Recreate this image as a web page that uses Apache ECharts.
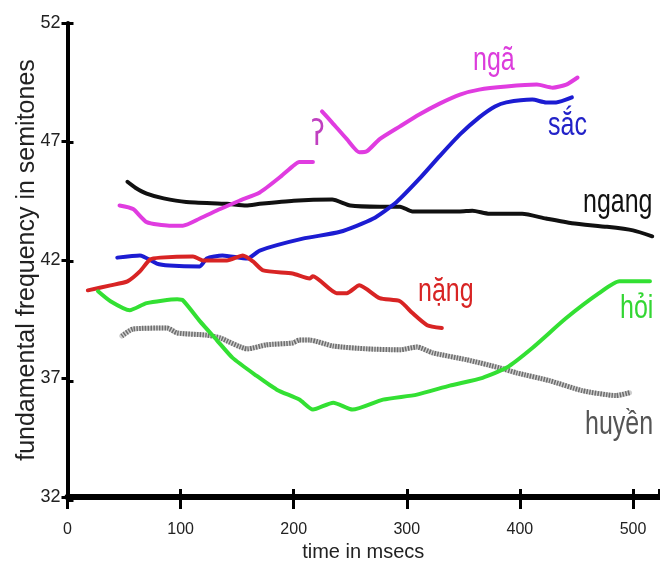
<!DOCTYPE html>
<html><head><meta charset="utf-8">
<script src="https://cdn.jsdelivr.net/npm/echarts@6/dist/echarts.min.js"></script>
<style>html,body{margin:0;padding:0;background:#fff}#c{width:660px;height:567px}</style>
</head><body><div id="c"></div>
<script>
const xTicks = [0, 100, 200, 300, 400, 500];
const yTicks = [32, 37, 42, 47, 52];

const ngang = [[53,45.3],[60,45.05],[70,44.8],[85,44.6],[105,44.45],[141,44.37],[158,44.3],[170,44.37],[200,44.5],[234,44.55],[250,44.3],[276,44.25],[294,44.25],[305,44.05],[347,44.05],[358,44.08],[373,43.95],[402,43.95],[423,43.75],[446,43.55],[477,43.4],[500,43.25],[517,43.0]];
const ngaPart1 = [[46,44.3],[58,44.15],[70,43.6],[90,43.45],[102,43.45],[117,43.75],[135,44.15],[152,44.5],[170,44.85],[188,45.5],[199,45.95],[205,46.13],[217,46.13]];
const ngaPart2 = [[225,48.27],[234,47.8],[247,47.1],[258,46.55],[265,46.6],[276,47.1],[294,47.64],[311,48.14],[329,48.6],[347,48.98],[364,49.19],[388,49.32],[415,49.4],[429,49.27],[441,49.4],[451,49.7]];
const sac = [[44,42.1],[64,42.19],[79,41.85],[90,41.77],[117,41.73],[123,42.06],[137,42.19],[159,42.06],[170,42.4],[208,42.9],[241,43.19],[270,43.74],[291,44.45],[311,45.42],[329,46.38],[347,47.3],[364,48.02],[378,48.48],[388,48.65],[411,48.77],[423,48.65],[432,48.65],[446,48.86]];
const nang = [[18,40.72],[38,40.93],[53,41.1],[64,41.52],[73,42.02],[82,42.1],[111,42.15],[120,41.98],[141,41.98],[155,42.19],[164,41.94],[173,41.56],[199,41.43],[214,41.22],[217,41.31],[238,40.6],[247,40.6],[258,40.93],[276,40.39],[294,40.26],[305,39.76],[318,39.25],[331,39.13]];
const hoi = [[27,40.68],[38,40.26],[55,39.88],[70,40.18],[97,40.34],[102,40.3],[117,39.42],[132,38.62],[146,37.87],[167,37.12],[185,36.53],[205,36.11],[217,35.69],[235,35.98],[252,35.69],[279,36.11],[309,36.32],[338,36.7],[367,37.03],[388,37.45],[411,38.29],[441,39.55],[470,40.6],[488,41.1],[515,41.1]];
const huyen = [[48,38.79],[58,39.09],[88,39.13],[97,38.92],[123,38.83],[135,38.71],[159,38.25],[176,38.42],[199,38.5],[205,38.62],[214,38.62],[235,38.37],[265,38.25],[294,38.21],[309,38.33],[323,38.08],[353,37.79],[382,37.45],[397,37.24],[426,36.91],[455,36.49],[485,36.28],[497,36.4]];

const FONT = '"Liberation Sans", Arial, sans-serif';
const xInterval = xTicks[1] - xTicks[0];
const yInterval = yTicks[1] - yTicks[0];
const X_MAX = 523;

function line(data, color, width, extra) {
  return Object.assign({
    type: 'line', data: data, symbol: 'none', smooth: 0.2,
    xAxisIndex: 0, yAxisIndex: 0,
    lineStyle: { color: color, width: width, cap: 'round', join: 'round' },
    silent: true
  }, extra || {});
}

function label(text, x, y, color, font) {
  return {
    type: 'text', x: x, y: y, scaleY: 1.35,
    style: { text: text, fill: color, fontSize: 25, fontFamily: font || FONT, verticalAlign: 'middle', align: 'left' }
  };
}

const gridBox = { left: 67.5, right: 1, top: 23, bottom: 67, containLabel: false };

const chart = echarts.init(document.getElementById('c'), null, { renderer: 'canvas' });
chart.setOption({
  animation: false,
  backgroundColor: '#fff',
  grid: [Object.assign({}, gridBox), Object.assign({}, gridBox)],
  xAxis: [{
    type: 'value', gridIndex: 0, min: xTicks[0], max: X_MAX, interval: xInterval,
    position: 'bottom',
    axisLine: { show: true, lineStyle: { color: '#000', width: 6 } },
    axisTick: { show: true, length: 12, lineStyle: { color: '#000', width: 3 } },
    axisLabel: { fontSize: 16, color: '#222', margin: 25, fontFamily: FONT },
    splitLine: { show: false },
    name: 'time in msecs', nameLocation: 'middle', nameGap: 45, nameMoveOverlap: false,
    nameTextStyle: { fontSize: 20, color: '#222', fontFamily: FONT }
  }, {
    type: 'value', gridIndex: 1, min: xTicks[0], max: X_MAX, interval: xInterval,
    position: 'bottom',
    axisLine: { show: false },
    axisTick: { show: true, inside: true, length: 11, lineStyle: { color: '#000', width: 3 } },
    axisLabel: { show: false }, splitLine: { show: false }
  }],
  yAxis: [{
    type: 'value', gridIndex: 0, min: yTicks[0], max: yTicks[yTicks.length - 1], interval: yInterval,
    position: 'left',
    axisLine: { show: true, lineStyle: { color: '#000', width: 4 } },
    axisTick: { show: true, length: 6, lineStyle: { color: '#000', width: 3 } },
    axisLabel: { fontSize: 18, color: '#222', margin: 7, fontFamily: FONT },
    splitLine: { show: false },
    name: 'fundamental frequency in semitones', nameLocation: 'middle', nameGap: 28, nameMoveOverlap: false,
    nameTextStyle: { fontSize: 25, color: '#222', fontFamily: FONT }
  }, {
    type: 'value', gridIndex: 1, min: yTicks[0], max: yTicks[yTicks.length - 1], interval: yInterval,
    position: 'left',
    axisLine: { show: false },
    axisTick: { show: true, inside: true, length: 6, lineStyle: { color: '#000', width: 3 } },
    axisLabel: { show: false }, splitLine: { show: false }
  }],
  series: [
    { type: 'line', data: [], xAxisIndex: 1, yAxisIndex: 1, silent: true, symbol: 'none' },
    line(huyen, '#cfcfcf', 5, { name: 'huyền base' }),
    line(huyen, '#6e6e6e', 5, { name: 'huyền', lineStyle: { color: '#6e6e6e', width: 5, type: [1.5, 1.3] } }),
    line(ngang, '#111111', 4, { name: 'ngang' }),
    line(sac, '#1c1cd2', 4, { name: 'sắc' }),
    line(nang, '#d82424', 4, { name: 'nặng' }),
    line(ngaPart1, '#e03ce0', 4, { name: 'ngã' }),
    line(ngaPart2, '#e03ce0', 4, { name: 'ngã (2)' }),
    line(hoi, '#33e033', 4, { name: 'hỏi' })
  ],
  graphic: [
    label('ngã', 473, 61, '#dc3cdc'),
    label('sắc', 548, 126, '#2222c8'),
    label('ngang', 583, 203, '#111111'),
    label('nặng', 418, 292, '#d82424'),
    label('hỏi', 620, 309, '#33d633'),
    label('huyền', 585, 425, '#555555'),
    {
      type: 'text', x: 311, y: 136, scaleY: 1.3,
      style: { text: 'ʔ', fill: '#c040c0', fontSize: 27, fontFamily: '"DejaVu Sans", sans-serif', verticalAlign: 'middle', align: 'left' }
    }
  ]
});
</script>
</body></html>
